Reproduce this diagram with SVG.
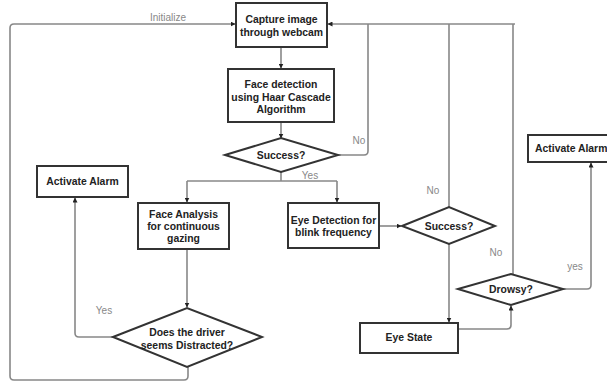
<svg xmlns="http://www.w3.org/2000/svg" width="607" height="383" viewBox="0 0 607 383">
<defs>
<marker id="arr" viewBox="0 0 10 10" refX="9" refY="5" markerWidth="5" markerHeight="5" orient="auto-start-reverse" markerUnits="userSpaceOnUse">
<path d="M0,0 L10,5 L0,10 z" fill="#222"/>
</marker>
<style>
.box{fill:#fff;stroke:#333;stroke-width:2}
.t{font-family:"Liberation Sans",Arial,sans-serif;font-weight:bold;font-size:10.4px;fill:#222;text-anchor:middle}
.c{fill:none;stroke:#888;stroke-width:1.6}
.a{marker-end:url(#arr)}
.l{font-family:"Liberation Sans",Arial,sans-serif;font-size:10px;fill:#888;text-anchor:middle}
</style>
</defs>
<rect width="607" height="383" fill="#fff"/>
<g id="connectors">
<path class="c a" d="M188,367 V376 Q188,380 184,380 H14 Q10,380 10,376 V28 Q10,24 14,24 H235"/>
<path class="c a" d="M515,24 H328"/>
<path class="c" d="M338,155 H364 Q368,155 368,151 V24"/>
<path class="c" d="M449,207 V24"/>
<path class="c" d="M513,274 V24"/>
<path class="c a" d="M281,47 V68"/>
<path class="c a" d="M281,122 V138"/>
<path class="c" d="M281,172 V181"/>
<path class="c" d="M187,181 H337"/>
<path class="c a" d="M187,181 V202"/>
<path class="c a" d="M337,181 V202"/>
<path class="c a" d="M187,249 V307"/>
<path class="c a" d="M113,337 H79 Q75,337 75,333 V198"/>
<path class="c a" d="M379,226 H401"/>
<path class="c a" d="M449,244 V322"/>
<path class="c a" d="M458,329 H507 Q511,329 511,325 V306"/>
<path class="c a" d="M563,289 H587 Q591,289 591,285 V163"/>
<text class="l" x="168" y="21">Initialize</text>
<text class="l" x="359" y="144">No</text>
<text class="l" x="310" y="179">Yes</text>
<text class="l" x="104" y="314">Yes</text>
<text class="l" x="433" y="194">No</text>
<text class="l" x="496" y="256">No</text>
<text class="l" x="575" y="270">yes</text>
</g>
<g id="capture">
<rect class="box" x="236" y="3" width="91" height="44"/>
<text class="t" x="281.5" y="23">Capture image</text>
<text class="t" x="281.5" y="36">through webcam</text>
</g>
<g id="facedetect">
<rect class="box" x="228" y="69" width="106" height="53"/>
<text class="t" x="281" y="88">Face detection</text>
<text class="t" x="281" y="101">using Haar Cascade</text>
<text class="t" x="281" y="113">Algorithm</text>
</g>
<g id="success1">
<polygon class="box" points="225,155 281,138 338,155 281,172"/>
<text class="t" x="281" y="159">Success?</text>
</g>
<g id="alarm-left">
<rect class="box" x="37" y="166" width="91" height="31"/>
<text class="t" x="82.5" y="185">Activate Alarm</text>
</g>
<g id="faceanalysis">
<rect class="box" x="138" y="203" width="91" height="46"/>
<text class="t" x="183.5" y="218">Face Analysis</text>
<text class="t" x="183.5" y="230">for continuous</text>
<text class="t" x="183.5" y="242">gazing</text>
</g>
<g id="eyedetect">
<rect class="box" x="288" y="203" width="91" height="45"/>
<text class="t" x="333.5" y="224">Eye Detection for</text>
<text class="t" x="333.5" y="236">blink frequency</text>
</g>
<g id="distracted">
<polygon class="box" points="113,337 187,308 262,337 187,367"/>
<text class="t" x="187" y="336">Does the driver</text>
<text class="t" x="187" y="349">seems Distracted?</text>
</g>
<g id="success2">
<polygon class="box" points="402,226 449,207 495,226 449,244"/>
<text class="t" x="449" y="230">Success?</text>
</g>
<g id="eyestate">
<rect class="box" x="360" y="323" width="98" height="30"/>
<text class="t" x="409" y="341">Eye State</text>
</g>
<g id="drowsy">
<polygon class="box" points="458,289 511,274 563,289 511,305"/>
<text class="t" x="511" y="293">Drowsy?</text>
</g>
<g id="alarm-right">
<rect class="box" x="528" y="135" width="92" height="27"/>
<text class="t" x="535" y="152" style="text-anchor:start">Activate Alarm</text>
</g>
</svg>
